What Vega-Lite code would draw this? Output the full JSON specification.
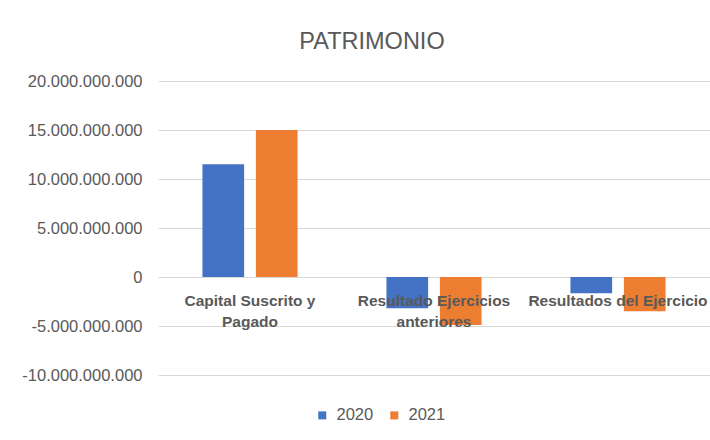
{
  "$schema": "https://vega.github.io/schema/vega-lite/v6.json",
  "autosize": {"type": "none"},
  "padding": {"left": 158, "top": 81, "right": 0, "bottom": 65},
  "width": 552,
  "height": 294,
  "background": "white",
  "config": {
    "locale": {"number": {"decimal": ",", "thousands": ".", "grouping": [3], "currency": ["$", ""], "minus": "-"}},
    "view": {"stroke": null},
    "font": "Liberation Sans"
  },
  "title": {
    "text": "PATRIMONIO",
    "fontSize": 23.5,
    "fontWeight": "normal",
    "color": "#595959",
    "font": "Liberation Sans",
    "offset": 20,
    "dx": -62
  },
  "data": {
    "values": [
      {"cat": "Capital Suscrito y Pagado", "year": "2020", "value": 11500000000},
      {"cat": "Capital Suscrito y Pagado", "year": "2021", "value": 15000000000},
      {"cat": "Resultado Ejercicios anteriores", "year": "2020", "value": -3200000000},
      {"cat": "Resultado Ejercicios anteriores", "year": "2021", "value": -4900000000},
      {"cat": "Resultados del Ejercicio", "year": "2020", "value": -1650000000},
      {"cat": "Resultados del Ejercicio", "year": "2021", "value": -3500000000}
    ]
  },
  "mark": {"type": "bar"},
  "encoding": {
    "x": {
      "field": "cat",
      "type": "nominal",
      "sort": null,
      "scale": {"paddingInner": 0.483, "paddingOuter": 0.2415},
      "axis": {
        "title": null,
        "orient": "bottom",
        "offset": -98,
        "domain": false,
        "ticks": false,
        "labelAngle": 0,
        "labelFont": "Liberation Sans",
        "labelFontSize": 15.5,
        "labelFontWeight": "bold",
        "labelColor": "#595959",
        "labelPadding": 16,
        "labelLineHeight": 21.5,
        "labelBaseline": "top",
        "labelLimit": 0,
        "zindex": 1,
        "labelExpr": "datum.value == 'Capital Suscrito y Pagado' ? ['Capital Suscrito y', 'Pagado'] : datum.value == 'Resultado Ejercicios anteriores' ? ['Resultado Ejercicios', 'anteriores'] : datum.value"
      }
    },
    "xOffset": {
      "field": "year",
      "type": "nominal",
      "scale": {"paddingInner": 0.22, "paddingOuter": 0}
    },
    "y": {
      "field": "value",
      "type": "quantitative",
      "scale": {"domain": [-10000000000, 20000000000], "nice": false},
      "axis": {
        "title": null,
        "values": [-10000000000, -5000000000, 0, 5000000000, 10000000000, 15000000000, 20000000000],
        "format": ",.0f",
        "domain": false,
        "ticks": false,
        "grid": true,
        "gridColor": "#d9d9d9",
        "gridWidth": 1,
        "labelFont": "Liberation Sans",
        "labelFontSize": 16.5,
        "labelColor": "#595959",
        "labelPadding": 16,
        "zindex": 0
      }
    },
    "color": {
      "field": "year",
      "type": "nominal",
      "scale": {"domain": ["2020", "2021"], "range": ["#4472C4", "#ED7D31"]},
      "legend": {
        "title": null,
        "orient": "none",
        "direction": "horizontal",
        "legendX": 156,
        "legendY": 326,
        "padding": 0,
        "symbolType": "square",
        "symbolSize": 64,
        "symbolStrokeWidth": 0,
        "labelFont": "Liberation Sans",
        "labelFontSize": 16.5,
        "labelColor": "#595959",
        "labelOffset": 6,
        "columnPadding": 12
      }
    }
  }
}
